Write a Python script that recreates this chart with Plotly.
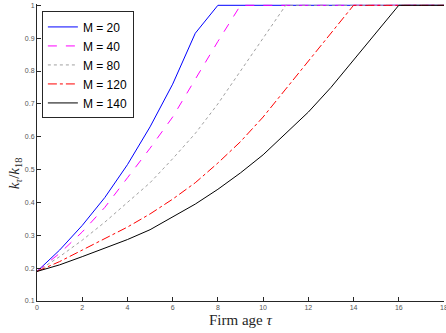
import plotly.graph_objects as go

ages = list(range(0, 19))

m20 = [0.19, 0.255, 0.33, 0.415, 0.515, 0.63, 0.76, 0.915, 1.0]
m40 = [0.19, 0.245, 0.31, 0.385, 0.475, 0.565, 0.66, 0.775, 0.89, 1.0]
m80 = [0.19, 0.235, 0.285, 0.34, 0.40, 0.46, 0.533, 0.61, 0.70, 0.80, 0.90, 1.0]
m120 = [0.19, 0.22, 0.255, 0.29, 0.325, 0.365, 0.41, 0.46, 0.52, 0.585, 0.66, 0.745, 0.83, 0.915, 1.0]
m140 = [0.19, 0.21, 0.235, 0.26, 0.287, 0.317, 0.355, 0.395, 0.44, 0.49, 0.545, 0.61, 0.675, 0.75, 0.833, 0.915, 1.0]

def pad(vals):
    return vals + [1.0] * (len(ages) - len(vals))

series = [
    ("M = 20", pad(m20), "#0000ff", "solid"),
    ("M = 40", pad(m40), "#ff00ff", "dash"),
    ("M = 80", pad(m80), "#a0a0a0", "dot"),
    ("M = 120", pad(m120), "#ff0000", "dashdot"),
    ("M = 140", pad(m140), "#000000", "solid"),
]

y_ticks = [0.1, 0.2, 0.3, 0.4, 0.5, 0.6, 0.7, 0.8, 0.9, 1.0]
y_ticktext = ["0.1", "0.2", "0.3", "0.4", "0.5", "0.6", "0.7", "0.8", "0.9", "1"]
x_ticks = list(range(0, 19, 2))

fig = go.Figure()
for name, vals, color, dash in series:
    fig.add_trace(go.Scatter(x=ages, y=vals, mode="lines", name=name,
                             line=dict(color=color, width=1, dash=dash)))

serif = "Liberation Serif, Times New Roman, serif"
sans = "Liberation Sans, Arial, sans-serif"

fig.update_layout(
    width=446, height=333,
    margin=dict(l=37, r=2, t=4, b=32, autoexpand=False),
    paper_bgcolor="white", plot_bgcolor="white",
    showlegend=True,
    legend=dict(x=0.012, y=0.975, xanchor="left", yanchor="top",
                bordercolor="#262626", borderwidth=1, bgcolor="white",
                font=dict(family=sans, size=12, color="#000"),
                tracegroupgap=0, itemwidth=30),
    xaxis=dict(range=[0, 18], tickvals=x_ticks, ticks="inside", ticklen=4,
               tickcolor="#262626", showline=True, linecolor="#262626", linewidth=1,
               showgrid=False, zeroline=False, automargin=False,
               ticklabeloverflow="allow",
               tickfont=dict(family=sans, size=7, color="#555")),
    yaxis=dict(range=[0.1, 1.004], tickvals=y_ticks, ticktext=y_ticktext, ticks="inside", ticklen=4,
               tickcolor="#262626", showline=True, linecolor="#262626", linewidth=1,
               showgrid=False, zeroline=False, automargin=False,
               ticklabeloverflow="allow",
               tickfont=dict(family=sans, size=7, color="#555")),
    annotations=[
        dict(text="Firm age <i>τ</i>", xref="paper", yref="paper", x=0.5, y=-0.064,
             xanchor="center", yanchor="middle", showarrow=False,
             font=dict(family=serif, size=15, color="#262626")),
        dict(text="<i>k<sub>τ</sub></i>/<i>k</i><sub>18</sub>", xref="paper", yref="paper",
             x=-0.054, y=0.43, xanchor="center", yanchor="middle", textangle=-90, showarrow=False,
             font=dict(family=serif, size=15, color="#262626")),
    ],
)

fig.write_html("out.html", config={"displayModeBar": False},
               post_script="document.body.style.margin='0';document.body.style.padding='0';")
